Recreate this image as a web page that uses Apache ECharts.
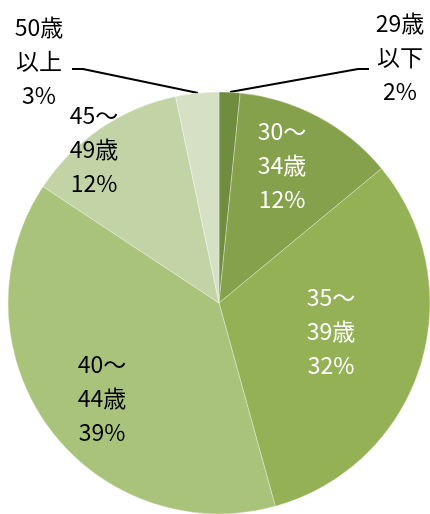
<!DOCTYPE html>
<html>
<head>
<meta charset="utf-8">
<script src="https://cdn.jsdelivr.net/npm/echarts@6/dist/echarts.min.js"></script>
<style>
html,body{margin:0;padding:0;background:#fff;}
#chart{width:430px;height:514px;}
</style>
</head>
<body>
<div id="chart"></div>
<script>
// Data
var categories = ['29歳以下', '30～34歳', '35～39歳', '40～44歳', '45～49歳', '50歳以上'];
var labelLines = ['29歳\n以下', '30～\n34歳', '35～\n39歳', '40～\n44歳', '45～\n49歳', '50歳\n以上'];
var values = [1.6, 12.4, 31.7, 38.6, 12.4, 3.3];

// Styles / layout
var colors = ['#6f8c3f', '#85a14b', '#94b156', '#a9c37a', '#c2d3a6', '#d6e0c5'];
var textColors = ['#000', '#fff', '#fff', '#000', '#000', '#000'];
var labelPos = [[400, 57], [282, 165], [331, 331], [102, 398], [94, 149], [39, 61]];
var leaderPts = {
  0: [[230, 92], [358, 69], [369, 69]],
  5: [[198, 93], [83, 69], [72, 69]]
};

var chart = echarts.init(document.getElementById('chart'), null, {renderer: 'canvas'});
var data = categories.map(function (c, i) {
  var outside = leaderPts[i] !== undefined;
  return {
    name: c,
    value: values[i],
    itemStyle: {color: colors[i]},
    label: {color: textColors[i], position: outside ? 'outside' : 'inside'},
    labelLine: {show: outside}
  };
});

chart.setOption({
  animation: false,
  series: [{
    type: 'pie',
    center: [219, 303],
    radius: [0, 211],
    startAngle: 90,
    clockwise: true,
    percentPrecision: 0,
    avoidLabelOverlap: false,
    data: data,
    itemStyle: {borderColor: 'rgba(255,255,255,0.45)', borderWidth: 0.7},
    label: {
      show: true,
      fontFamily: '"Noto Sans CJK JP", "Noto Sans", sans-serif',
      fontSize: 23,
      lineHeight: 34,
      align: 'center',
      formatter: function (p) {
        return labelLines[p.dataIndex] + '\n' + p.percent + '%';
      }
    },
    labelLine: {
      lineStyle: {color: '#000', width: 2}
    },
    labelLayout: function (p) {
      var i = p.dataIndex;
      var r = {
        x: labelPos[i][0],
        y: labelPos[i][1],
        align: 'center',
        verticalAlign: 'middle'
      };
      if (leaderPts[i]) r.labelLinePoints = leaderPts[i];
      return r;
    }
  }]
});
</script>
</body>
</html>
